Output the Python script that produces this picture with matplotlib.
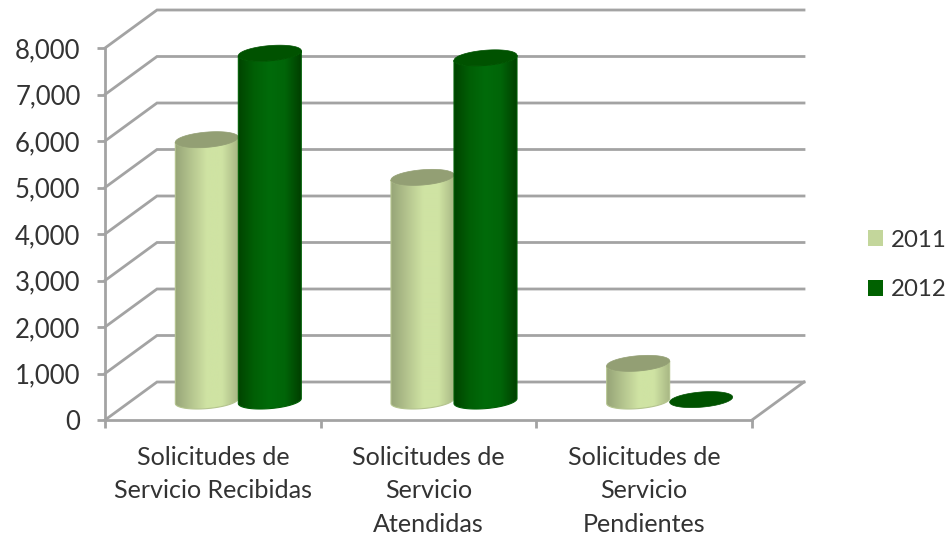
import numpy as np
import matplotlib
matplotlib.use("Agg")
import matplotlib.pyplot as plt
from matplotlib.patches import Patch, PathPatch
from matplotlib.path import Path
from matplotlib.colors import LinearSegmentedColormap

plt.rcParams['font.family'] = ['Lato', 'DejaVu Sans']

categories = ["Solicitudes de\nServicio Recibidas",
              "Solicitudes de\nServicio\nAtendidas",
              "Solicitudes de\nServicio\nPendientes"]
years = ["2011", "2012"]
values_2011 = [5620, 4810, 810]
values_2012 = [7480, 7380, 30]
yticks = [0, 1000, 2000, 3000, 4000, 5000, 6000, 7000, 8000]

side_2011 = ["#97a578", "#b4c48e", "#cfe3a3", "#cfe3a3", "#a8b784"]
side_2012 = ["#004400", "#005f05", "#006b0a", "#006508", "#004000"]
top_2011 = "#939f74"
top_2012 = "#005200"
legend_2011 = "#c3d69b"
legend_2012 = "#006100"
grey = "#a3a3a3"

W, H = 949, 536
fig = plt.figure(figsize=(W / 100, H / 100), dpi=100)
ax = fig.add_axes([105 / W, (H - 420) / H, 647 / W, 372 / H])

# pixel sizes turned into data units
px = 3 / 647
py = 8000 / 372
depth_x = 52 * px
depth_y = 38 * py


def ellipse(cx, cy, a, b, tilt, t):
    return cx + a * np.cos(t), cy + b * np.sin(t) + tilt * np.cos(t)


def cylinder(cx, value, colors, top_color, z):
    """One 3D column standing half way into the floor."""
    cx = cx + depth_x / 2
    base = depth_y / 2
    a, b, tilt = 31.5 * px, 7.6 * py, 2.5 * py
    t = np.linspace(np.pi, 2 * np.pi, 50)
    x0, y0 = ellipse(cx, base, a, b, tilt, t)
    x1, y1 = ellipse(cx, base + value, a, b, tilt, t[::-1])
    verts = np.vstack([np.column_stack([x0, y0]), np.column_stack([x1, y1])])
    outline = Path(np.vstack([verts, verts[:1]]), closed=True)
    if value > 100:
        cmap = LinearSegmentedColormap.from_list("side", colors)
        grad = np.linspace(0, 1, 128).reshape(1, -1)
        im = ax.imshow(grad, cmap=cmap, aspect="auto", zorder=z,
                       extent=(cx - a, cx + a, base - 2 * b, base + value + 2 * b))
        patch = PathPatch(outline, fc="none", ec=colors[1], lw=0.8, zorder=z, clip_on=False)
        ax.add_patch(patch)
        im.set_clip_path(patch)
        im.set_clip_box(fig.bbox)
    t = np.linspace(0, 2 * np.pi, 100)
    x2, y2 = ellipse(cx, base + value, a, b, tilt, t)
    ax.fill(x2, y2, color=top_color, lw=0.5, zorder=z + 0.1, clip_on=False)


# wall grid and the diagonals going back from the axis
for v in yticks:
    ax.plot([0, depth_x, 3 + depth_x], [v, v + depth_y, v + depth_y], color=grey, lw=2,
            zorder=1, clip_on=False, solid_joinstyle="miter")
ax.plot([3, 3 + depth_x], [0, depth_y], color=grey, lw=2, zorder=1, clip_on=False)

for i in range(len(categories)):
    cylinder(i + 0.5 - 32 * px, values_2011[i], side_2011, top_2011, 3 + i)
    cylinder(i + 0.5 + 31 * px, values_2012[i], side_2012, top_2012, 3.5 + i)

ax.set_xlim(0, 3)
ax.set_ylim(0, 8000)
for s in ["top", "right"]:
    ax.spines[s].set_visible(False)
for s in ["left", "bottom"]:
    ax.spines[s].set_color(grey)
    ax.spines[s].set_linewidth(2)

ax.set_yticks(yticks)
ax.set_yticklabels(["{:,}".format(v) for v in yticks])
ax.set_xticks([0, 1, 2, 3])
ax.set_xticklabels([])
ax.set_xticks([0.5, 1.5, 2.5], minor=True)
ax.set_xticklabels(categories, minor=True, fontsize=18.1, color="#333333",
                   linespacing=1.56, va="top")
ax.tick_params(axis="both", which="major", length=6, width=2, color=grey)
ax.tick_params(axis="y", labelsize=18.5, labelcolor="#333333", pad=11.6)
ax.tick_params(axis="x", which="minor", length=0, pad=18.5)

handles = [Patch(fc=legend_2011, label=years[0]), Patch(fc=legend_2012, label=years[1])]
fig.legend(handles=handles, loc="center left", bbox_to_anchor=(868 / W, (H - 265) / H),
           frameon=False, fontsize=17.3, labelcolor="#333333", handlelength=0.62,
           handleheight=0.62, handletextpad=0.35, labelspacing=1.2, borderpad=0, borderaxespad=0)

fig.savefig("out.png", dpi=100)
